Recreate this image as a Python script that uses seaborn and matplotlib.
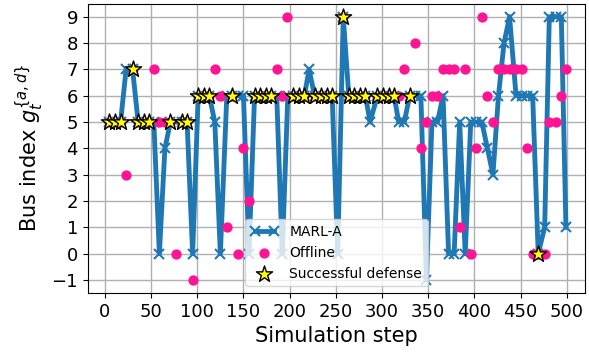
import matplotlib
matplotlib.use("Agg")
import matplotlib.pyplot as plt
import seaborn as sns

# simulation steps and the bus picked by MARL-A at each step
steps = [5, 11, 17, 23, 30, 36, 42, 48, 53, 59, 65, 71, 77, 83, 89, 95,
         101, 107, 113, 119, 125, 132, 138, 144, 150, 156, 162, 168, 174, 180,
         186, 192, 198, 204, 210, 216, 221, 227, 234, 240, 246, 252, 258, 264,
         270, 276, 282, 287, 295, 301, 307, 313, 318, 324, 330, 336, 342, 348,
         354, 360, 366, 372, 378, 384, 390, 396, 402, 408, 414, 420, 426, 432,
         438, 445, 451, 457, 463, 469, 476, 481, 488, 494, 499]
marl_bus = [5, 5, 5, 7, 7, 5, 5, 5, 5, 0, 4, 5, 5, 5, 5, 0,
            6, 6, 6, 5, 0, 6, 6, 6, 6, 0, 6, 6, 6, 6,
            6, 0, 6, 6, 6, 6, 7, 6, 6, 6, 6, 0, 9, 6,
            6, 6, 6, 5, 6, 6, 6, 6, 5, 5, 6, 6, 6, -1,
            5, 5, 6, 0, 0, 5, 0, 5, 5, 5, 4, 3, 6, 8,
            9, 6, 6, 6, 6, 0, 1, 9, 9, 9, 1]

# steps where the defense succeeded
defense_steps = [5, 11, 17, 30, 36, 42, 48, 71, 83, 89, 101, 107, 113, 138,
                 162, 168, 174, 180, 204, 210, 216, 227, 234, 240, 246, 258,
                 264, 270, 276, 282, 295, 301, 307, 313, 330, 469]
defense_bus = [5, 5, 5, 7, 5, 5, 5, 5, 5, 5, 6, 6, 6, 6,
               6, 6, 6, 6, 6, 6, 6, 6, 6, 6, 6, 9,
               6, 6, 6, 6, 6, 6, 6, 6, 6, 0]

# offline baseline
offline_steps = [23, 53, 59, 65, 77, 95, 119, 125, 132, 144, 150, 156, 186,
                 192, 197, 318, 324, 336, 342, 348, 354, 360, 366, 372, 378,
                 384, 390, 396, 402, 408, 414, 420, 426, 432, 438, 445, 451,
                 457, 463, 469, 476, 481, 488, 494, 499] + defense_steps
offline_bus = [3, 7, 5, 5, 0, -1, 7, 6, 1, 0, 4, 2, 7,
               6, 9, 6, 7, 8, 4, 5, 6, 6, 7, 7, 7,
               1, 7, 0, 4, 9, 6, 5, 7, 7, 7, 7, 7,
               4, 0, 0, 0, 5, 5, 6, 7] + defense_bus

fig, ax = plt.subplots(figsize=(5.89, 3.54), dpi=100)
fig.subplots_adjust(left=0.149, right=0.993, top=0.99, bottom=0.172)

sns.lineplot(x=steps, y=marl_bus, ax=ax, color="#1f77b4", lw=3.5,
             marker="x", markersize=7, markeredgewidth=1.5,
             markeredgecolor="#1f77b4", label="MARL-A", zorder=2)
sns.scatterplot(x=offline_steps, y=offline_bus, ax=ax, color="deeppink",
                s=55, linewidth=0, label="Offline", zorder=3)
sns.scatterplot(x=defense_steps, y=defense_bus, ax=ax, marker="*", s=150,
                color="yellow", edgecolor="black", linewidth=1,
                label="Successful defense", zorder=4)

ax.set_xlim(-18.5, 519.5)
ax.set_ylim(-1.5, 9.5)
ax.set_xticks(range(0, 501, 50))
ax.set_yticks(range(-1, 10))
ax.tick_params(labelsize=13)
ax.grid(True, color="#b0b0b0", lw=1)
ax.set_axisbelow(True)
ax.set_xlabel("Simulation step", fontsize=15)
ax.set_ylabel(r"Bus index $g_t^{\{a,d\}}$", fontsize=15)
ax.legend(loc="lower center", fontsize=10, numpoints=2, scatterpoints=1)

fig.savefig("out.png", dpi=100)
